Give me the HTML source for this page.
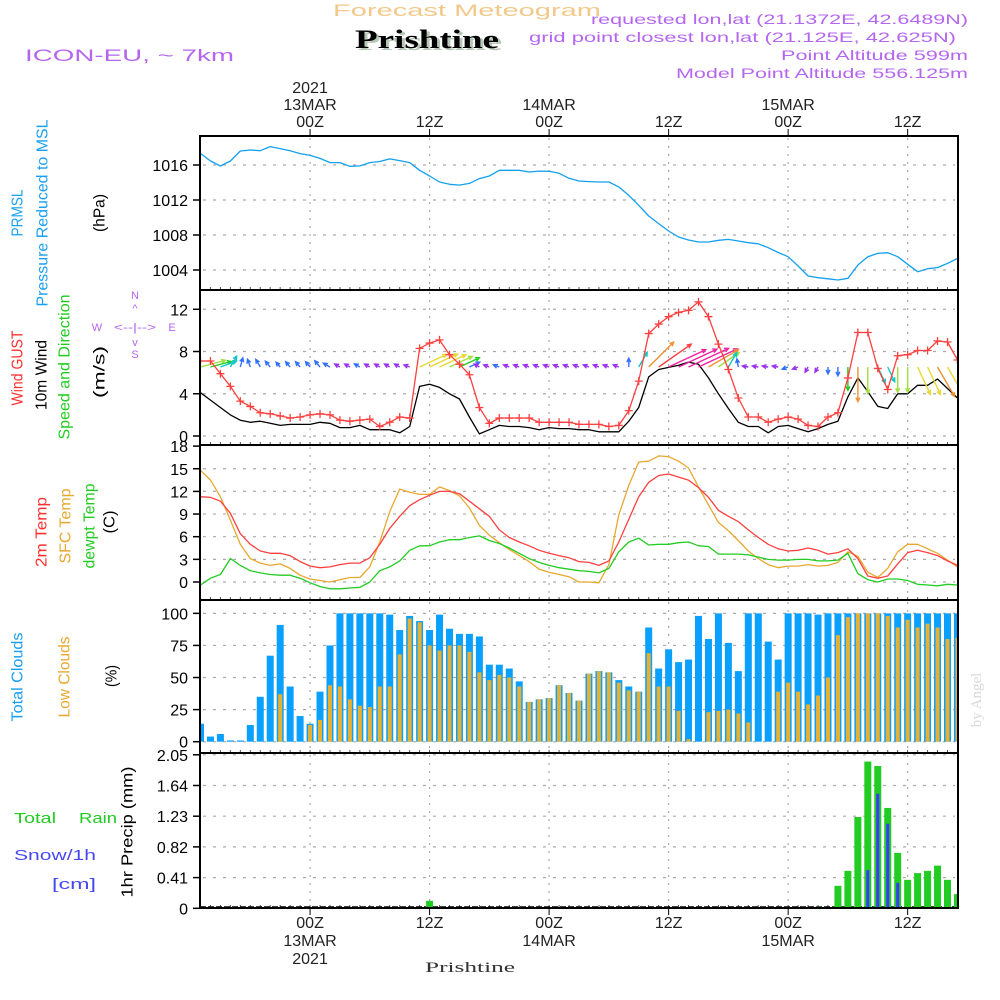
<!DOCTYPE html>
<html><head><meta charset="utf-8"><title>Forecast Meteogram Prishtine</title>
<style>
html,body{margin:0;padding:0;background:#fff;}
svg{display:block;font-family:"Liberation Sans",sans-serif;}
</style></head>
<body>
<svg id="chart" width="1000" height="1000" viewBox="0 0 1000 1000" xmlns="http://www.w3.org/2000/svg">
<defs><clipPath id="plotclip"><rect x="200" y="136" width="758" height="772"/></clipPath></defs>
<rect x="0" y="0" width="1000" height="1000" fill="#fff"/>
<g>
<text x="333" y="16" font-size="17" fill="#f2c98a" textLength="268" lengthAdjust="spacingAndGlyphs">Forecast Meteogram</text>
<text x="358" y="50" font-family="Liberation Serif,serif" font-weight="bold" font-size="26" fill="#b8c8b8" textLength="144" lengthAdjust="spacingAndGlyphs">Prishtine</text>
<text x="355" y="48" font-family="Liberation Serif,serif" font-weight="bold" font-size="26" fill="#000" textLength="144" lengthAdjust="spacingAndGlyphs">Prishtine</text>
<text x="25" y="61" font-size="17" fill="#b566f0" textLength="209" lengthAdjust="spacingAndGlyphs">ICON-EU, ~ 7km</text>
<text x="968" y="24" text-anchor="end" font-size="14" fill="#b566f0" textLength="377" lengthAdjust="spacingAndGlyphs">requested lon,lat (21.1372E, 42.6489N)</text>
<text x="956" y="42" text-anchor="end" font-size="14" fill="#b566f0" textLength="427" lengthAdjust="spacingAndGlyphs">grid point closest lon,lat (21.125E, 42.625N)</text>
<text x="968" y="60" text-anchor="end" font-size="14" fill="#b566f0" textLength="187" lengthAdjust="spacingAndGlyphs">Point Altitude 599m</text>
<text x="968" y="78" text-anchor="end" font-size="14" fill="#b566f0" textLength="292" lengthAdjust="spacingAndGlyphs">Model Point Altitude 556.125m</text>
</g>
<g font-size="16">
<text transform="translate(18,213) rotate(-90)" text-anchor="middle" dominant-baseline="central" fill="#1aa0f0" textLength="47" lengthAdjust="spacingAndGlyphs">PRMSL</text>
<text transform="translate(43,213) rotate(-90)" text-anchor="middle" dominant-baseline="central" fill="#1aa0f0" textLength="187" lengthAdjust="spacingAndGlyphs">Pressure Reduced to MSL</text>
<text transform="translate(100,213) rotate(-90)" text-anchor="middle" dominant-baseline="central" fill="#000" textLength="38" lengthAdjust="spacingAndGlyphs">(hPa)</text>
<text transform="translate(18,368) rotate(-90)" text-anchor="middle" dominant-baseline="central" fill="#ff3030" textLength="75" lengthAdjust="spacingAndGlyphs">Wind GUST</text>
<text transform="translate(42,375) rotate(-90)" text-anchor="middle" dominant-baseline="central" fill="#000" textLength="70" lengthAdjust="spacingAndGlyphs">10m Wind</text>
<text transform="translate(65,367) rotate(-90)" text-anchor="middle" dominant-baseline="central" fill="#22cc22" textLength="145" lengthAdjust="spacingAndGlyphs">Speed and Direction</text>
<text transform="translate(100,372) rotate(-90)" text-anchor="middle" dominant-baseline="central" fill="#000" textLength="52" lengthAdjust="spacingAndGlyphs">(m/s)</text>
<text transform="translate(42,532) rotate(-90)" text-anchor="middle" dominant-baseline="central" fill="#ff3030" textLength="70" lengthAdjust="spacingAndGlyphs">2m Temp</text>
<text transform="translate(66,526) rotate(-90)" text-anchor="middle" dominant-baseline="central" fill="#e8a830" textLength="75" lengthAdjust="spacingAndGlyphs">SFC Temp</text>
<text transform="translate(90,526) rotate(-90)" text-anchor="middle" dominant-baseline="central" fill="#22cc22" textLength="85" lengthAdjust="spacingAndGlyphs">dewpt Temp</text>
<text transform="translate(110,522) rotate(-90)" text-anchor="middle" dominant-baseline="central" fill="#000" textLength="23" lengthAdjust="spacingAndGlyphs">(C)</text>
<text transform="translate(18,677) rotate(-90)" text-anchor="middle" dominant-baseline="central" fill="#1aa0f0" textLength="89" lengthAdjust="spacingAndGlyphs">Total Clouds</text>
<text transform="translate(65,677) rotate(-90)" text-anchor="middle" dominant-baseline="central" fill="#e8a830" textLength="81" lengthAdjust="spacingAndGlyphs">Low Clouds</text>
<text transform="translate(112,676) rotate(-90)" text-anchor="middle" dominant-baseline="central" fill="#000" textLength="22" lengthAdjust="spacingAndGlyphs">(%)</text>
<text transform="translate(128,832) rotate(-90)" text-anchor="middle" dominant-baseline="central" fill="#000" textLength="131" lengthAdjust="spacingAndGlyphs">1hr Precip (mm)</text>
<text x="14" y="823" fill="#22cc22" font-size="15" textLength="42" lengthAdjust="spacingAndGlyphs">Total</text>
<text x="79" y="823" fill="#22cc22" font-size="15" textLength="38" lengthAdjust="spacingAndGlyphs">Rain</text>
<text x="14" y="860" fill="#4848f0" font-size="15" textLength="82" lengthAdjust="spacingAndGlyphs">Snow/1h</text>
<text x="52" y="889" fill="#4848f0" font-size="15" textLength="44" lengthAdjust="spacingAndGlyphs">[cm]</text>
</g>
<g fill="#b566f0" font-size="11" text-anchor="middle">
<text x="135" y="299">N</text>
<text x="135" y="312">^</text>
<text x="97" y="331">W</text>
<text x="135" y="331" textLength="42" lengthAdjust="spacingAndGlyphs">&lt;--|--&gt;</text>
<text x="172" y="331">E</text>
<text x="135" y="346">v</text>
<text x="135" y="358">S</text>
</g>
<text transform="translate(977,700) rotate(-90)" text-anchor="middle" dominant-baseline="central" font-family="Liberation Serif,serif" font-size="15" fill="#d8d8d8">by Angel</text>
<text x="470" y="972" text-anchor="middle" font-family="Liberation Serif,serif" font-size="15" fill="#333" textLength="90" lengthAdjust="spacingAndGlyphs">Prishtine</text>
<g id="plot"></g>
</svg>
<script>
// ---- data (hourly, starting 12 MAR 13Z) ----
const pressure = [1017.33,1016.46,1015.89,1016.46,1017.6,1017.71,1017.64,1018.1,1017.87,1017.64,1017.3,1017.1,1016.76,1016.27,1016.27,1015.85,1015.9,1016.27,1016.4,1016.7,1016.5,1016.27,1015.4,1014.74,1014.06,1013.8,1013.7,1013.9,1014.44,1014.74,1015.4,1015.4,1015.4,1015.2,1015.3,1015.28,1015.05,1014.48,1014.17,1014.1,1014.06,1014.06,1013.5,1012.53,1011.4,1010.17,1009.3,1008.46,1007.77,1007.43,1007.2,1007.2,1007.39,1007.5,1007.31,1007.12,1007.0,1006.55,1006.0,1005.52,1004.46,1003.31,1003.12,1003.0,1002.86,1003.05,1004.57,1005.52,1005.9,1005.98,1005.52,1004.65,1003.81,1004.15,1004.27,1004.76,1005.33];
const gust = [7.1,7.1,5.9,4.7,3.3,2.8,2.2,2.1,1.9,1.7,1.8,2.0,2.1,2.0,1.5,1.4,1.5,1.6,0.9,1.3,1.8,1.7,8.3,8.8,9.1,7.7,6.8,5.8,2.7,1.2,1.7,1.7,1.7,1.7,1.3,1.3,1.3,1.3,1.1,1.1,1.1,0.9,1.0,2.4,5.2,9.7,10.6,11.3,11.7,11.9,12.7,11.3,8.7,6.3,3.6,1.8,1.8,1.3,1.6,1.8,1.6,1.0,0.9,1.8,2.2,5.5,9.8,9.8,6.4,4.4,7.6,7.7,8.1,8.1,9.0,8.9,7.2];
const windSpeed = [4.1,3.4,2.7,2.0,1.5,1.3,1.4,1.2,1.0,1.1,1.1,1.1,1.3,1.2,0.8,0.8,1.0,0.6,0.6,0.6,0.3,0.9,4.7,4.9,4.6,4.0,3.5,1.8,0.2,0.6,1.0,0.9,0.9,0.8,0.6,0.8,0.7,0.7,0.6,0.6,0.4,0.4,0.4,1.4,2.7,5.6,6.3,6.5,6.7,7.0,6.8,5.5,4.0,2.6,1.3,0.9,0.9,0.3,0.9,1.0,0.7,0.4,0.7,1.1,1.4,3.7,5.5,4.2,2.8,2.6,4.0,4.0,4.8,4.8,5.4,4.5,3.6];
const windDir = [75,75,70,30,15,-20,-30,-40,-40,-40,-40,-40,-40,-60,-60,-60,-60,-60,-60,-60,-60,-70,65,65,65,65,65,65,-60,-70,-70,-70,-70,-70,-70,-70,-70,-70,-70,-70,-70,-70,-70,0,30,45,55,65,65,65,65,60,55,30,-10,-80,-80,-80,-80,-110,-110,-150,-150,180,180,180,180,180,155,155,180,180,155,155,150,150,130];
const temp2m = [11.3,11.2,10.7,9.1,6.4,5.0,4.1,3.8,3.8,3.5,2.7,2.1,1.9,2.0,2.3,2.5,2.5,3.2,5.0,7.1,8.7,10.1,10.9,11.5,12.0,12.0,11.7,10.7,9.7,8.7,6.9,5.9,5.3,4.8,4.2,3.8,3.5,3.2,2.7,2.6,2.2,2.8,5.3,8.3,11.3,13.2,14.1,14.3,13.9,13.5,12.5,11.2,9.5,8.7,8.0,6.9,5.9,5.0,4.4,4.1,4.2,4.5,4.2,3.7,3.9,4.4,3.1,0.8,0.5,0.8,2.4,3.9,4.2,3.9,3.5,2.8,2.2];
const tempSfc = [14.8,13.5,11.3,8.2,5.0,3.1,2.5,2.2,2.4,1.8,0.9,0.4,0.2,0.0,0.3,0.6,0.6,2.0,5.3,9.3,12.3,11.9,11.6,11.6,12.6,12.1,11.4,9.8,7.5,6.2,5.2,4.3,3.5,2.7,1.7,1.3,1.0,0.7,0.0,0.0,-0.1,2.3,8.9,12.8,15.9,16.0,16.7,16.6,16.0,15.1,12.6,10.2,7.9,6.8,5.5,4.1,3.1,2.3,1.9,2.1,2.1,2.3,2.1,2.2,2.6,4.0,3.4,1.3,0.6,1.8,4.0,5.0,5.0,4.4,3.8,2.9,2.0];
const dewpt = [-0.4,0.5,1.0,3.1,2.2,1.5,1.2,1.0,0.9,0.9,0.5,-0.1,-0.6,-0.9,-0.9,-0.8,-0.7,0.0,1.5,2.0,2.8,4.2,4.8,4.8,5.3,5.6,5.6,5.9,6.1,5.5,5.1,4.5,3.8,3.1,2.6,2.2,1.9,1.7,1.5,1.4,1.2,1.8,4.0,5.3,5.8,4.9,5.0,5.0,5.2,5.3,4.8,4.7,3.7,3.7,3.7,3.6,3.3,3.0,2.9,2.9,3.0,3.0,2.8,2.8,2.9,3.8,1.1,0.3,0.0,0.4,0.4,0.2,-0.3,-0.4,-0.5,-0.3,-0.4];
const totalClouds = [14,4,6,1,1,13,35,67,91,43,20,14,39,75,100,100,100,100,100,99,87,98,94,87,99,88,84,84,82,60,60,57,47,31,33,34,44,38,32,53,55,54,48,43,39,89,57,72,62,64,98,80,100,77,55,100,100,78,64,100,100,100,99,100,100,100,100,100,100,100,100,100,100,100,100,100,100];
const lowClouds = [0,0,0,0,0,0,0,0,37,0,0,13,17,44,43,33,28,27,43,43,68,96,93,75,71,75,75,70,54,48,52,50,43,31,33,34,44,38,32,53,55,54,46,40,39,69,43,43,24,2,0,23,24,25,22,15,0,0,39,46,39,29,36,50,83,97,100,100,100,98,89,95,89,92,89,80,81];
const precipIdx = [23,62,64,65,66,67,68,69,70,71,72,73,74,75,76];
const rainVals = [0.10,0.02,0.30,0.50,1.22,1.96,1.90,1.34,0.74,0.38,0.47,0.50,0.57,0.38,0.19];
const snowIdx = [67,68,69,70];
const snowVals = [0.51,1.53,1.13,0.34];
const pressTicks = [1004,1008,1012,1016];
const windTicks = [0,4,8,12];
const tempTicks = [0,3,6,9,12,15,18];
const cloudTicks = [0,25,50,75,100];
const precipTicks = ["0","0.41","0.82","1.23","1.64","2.05"];
const timeLabelsIdx = [11,23,35,47,59,71];
const timeLabelsZ = ["00Z","12Z","00Z","12Z","00Z","12Z"];
const timeLabelsDay = ["13MAR","","14MAR","","15MAR",""];

// ---- axes ----
const NS="http://www.w3.org/2000/svg";
const X0=200, X1=958;
const xOf = i => 200.5 + 9.96*i;
const yP = v => 165 + (1016-v)*8.75;
const yW = v => 436 - v*10.56;
const yT = v => 582 - v*7.55;
const yC = v => 741.7 - v*1.2835;
const yR = v => 908.3 - v*(30.7/0.41);
const panels=[[136,290],[290,445],[445,600],[600,753],[753,908]];
const plot=document.getElementById('plot');
function mk(tag,attrs,parent){const e=document.createElementNS(NS,tag);for(const k in attrs)e.setAttribute(k,attrs[k]);(parent||plot).appendChild(e);return e;}

// grids
const grid=mk('g',{});


for(const p of panels){
  for(const ti of timeLabelsIdx){
    const l=mk('line',{x1:xOf(ti),x2:xOf(ti),y1:p[0]+2,y2:p[1]-2,stroke:'#aaa','stroke-width':1.2,'stroke-dasharray':'2,6'},grid);
    
    
  }
}
function hgrid(ys){for(const y of ys){const l=mk('line',{x1:X0+3,x2:X1-3,y1:y,y2:y,stroke:'#aaa','stroke-width':1.2,'stroke-dasharray':'3,7'},grid);
  
  }}
hgrid(pressTicks.map(yP));hgrid(windTicks.map(yW));hgrid(tempTicks.slice(0,6).map(yT));hgrid(cloudTicks.map(yC));
hgrid(precipTicks.slice(1).map(t=>yR(parseFloat(t))));

// y tick labels
function yTicks(vals,fn,name){for(const v of vals){const y=fn(typeof v==='string'?parseFloat(v):v);
  const t=mk('text',{x:188,y:y+6,'text-anchor':'end','font-size':16,fill:'#000'});t.textContent=String(v);
  
  
  mk('line',{x1:193,x2:200,y1:y,y2:y,stroke:'#000','stroke-width':1.5});}}
yTicks(pressTicks,yP,'pressure');yTicks(windTicks,yW,'wind');yTicks(tempTicks,yT,'temp');yTicks(cloudTicks,yC,'cloud');yTicks(precipTicks,yR,'precip');

// time labels top & bottom
timeLabelsIdx.forEach((ti,k)=>{
  const x=xOf(ti);
  let t=mk('text',{x:x,y:127,'text-anchor':'middle','font-size':16,fill:'#222'});t.textContent=timeLabelsZ[k];
  
  
  t=mk('text',{x:x,y:928,'text-anchor':'middle','font-size':16,fill:'#222'});t.textContent=timeLabelsZ[k];
  
  
  if(timeLabelsDay[k]){
    t=mk('text',{x:x,y:110,'text-anchor':'middle','font-size':16,fill:'#222'});t.textContent=timeLabelsDay[k];
    
    
    t=mk('text',{x:x,y:946,'text-anchor':'middle','font-size':16,fill:'#222'});t.textContent=timeLabelsDay[k];
    
    
  }
  mk('line',{x1:x,x2:x,y1:129,y2:136,stroke:'#000','stroke-width':1});
  mk('line',{x1:x,x2:x,y1:908,y2:915,stroke:'#000','stroke-width':1});
});
let yr=mk('text',{x:xOf(11),y:93,'text-anchor':'middle','font-size':16,fill:'#222'});yr.textContent='2021';


yr=mk('text',{x:xOf(11),y:964,'text-anchor':'middle','font-size':16,fill:'#222'});yr.textContent='2021';



// minor hour ticks
for(const p of panels){for(let i=0;i<77;i++){mk('line',{x1:xOf(i),x2:xOf(i),y1:p[1]-3,y2:p[1],stroke:'#555','stroke-width':1});}}

// clipped series group
const sg=mk('g',{'clip-path':'url(#plotclip)'});



// clouds
const cg=mk('g',{},sg);


totalClouds.forEach((v,i)=>{const x=xOf(i);const y=yC(v);
  const r=mk('rect',{x:x-3.5,y:y,width:7,height:yC(0)-y,fill:'#0aa0ff'},cg);
  
  });
lowClouds.forEach((v,i)=>{if(v<=0)return;const x=xOf(i);const y=yC(v);
  const r=mk('rect',{x:x-2,y:y,width:4,height:yC(0)-y,fill:'#e8b030'},cg);
  
  });

// precip
const pg=mk('g',{},sg);


mk('line',{x1:X0,x2:X1,y1:907,y2:907,stroke:'#000','stroke-width':1.5,'stroke-dasharray':'6,2'},pg);
precipIdx.forEach((ti,k)=>{const x=xOf(ti);const y=yR(rainVals[k]);
  const r=mk('rect',{x:x-3.5,y:y,width:7,height:yR(0)-y,fill:'#22cc22'},pg);
  
  });
snowIdx.forEach((ti,k)=>{const x=xOf(ti);const y=yR(snowVals[k]);
  const r=mk('rect',{x:x-1.5,y:y,width:3,height:yR(0)-y,fill:'#3a3aff'},pg);
  
  });

// lines
function line(arr,fn,color,name,w){const d=arr.map((v,i)=>(i?'L':'M')+xOf(i).toFixed(1)+','+fn(v).toFixed(1)).join('');
  const p=mk('path',{d:d,fill:'none',stroke:color,'stroke-width':w||1.3,'stroke-linejoin':'round'},sg);
  
  return p;}
line(pressure,yP,'#14a0f0','pressure-line');
line(tempSfc,yT,'#e8a830','sfc-temp-line');
line(temp2m,yT,'#ff4040','temp-2m-line');
line(dewpt,yT,'#22cc22','dewpt-line');
line(windSpeed,yW,'#000','wind-speed-line');

// wind arrows
function wcol(s){if(s<1)return '#9a30f0';if(s<2)return '#3070ff';if(s<3)return '#10c8c8';if(s<4)return '#20cc20';if(s<4.5)return '#a0e040';if(s<5.3)return '#e8d830';if(s<6)return '#f09030';if(s<6.4)return '#ff4040';return '#f020a0';}
const ag=mk('g',{fill:'none','stroke-width':1.4},sg);


windDir.forEach((d,i)=>{const s=windSpeed[i];const L=Math.max(6,6.3*s);const r=d*Math.PI/180;
  const x0=xOf(i),y0=367;const x1=x0+Math.sin(r)*L,y1=y0-Math.cos(r)*L;
  const h=4.5,a1=r+Math.PI-0.45,a2=r+Math.PI+0.45;
  const p=mk('path',{d:`M${x0.toFixed(1)},${y0}L${x1.toFixed(1)},${y1.toFixed(1)}M${(x1+Math.sin(a1)*h).toFixed(1)},${(y1-Math.cos(a1)*h).toFixed(1)}L${x1.toFixed(1)},${y1.toFixed(1)}L${(x1+Math.sin(a2)*h).toFixed(1)},${(y1-Math.cos(a2)*h).toFixed(1)}`,stroke:wcol(s)},ag);
  
  });

line(gust,yW,'#ff4040','wind-gust-line');
const gm=mk('g',{stroke:'#ff4040','stroke-width':1.3},sg);


gust.forEach((v,i)=>{const x=xOf(i),y=yW(v);
  const p=mk('path',{d:`M${x-4},${y}H${x+4}M${x},${y-4}V${y+4}`},gm);
  
  });

// panel frames
for(const p of panels){const r=mk('rect',{x:X0,y:p[0],width:X1-X0,height:p[1]-p[0],fill:'none',stroke:'#000','stroke-width':2});
  
  }
</script>
</body></html>
